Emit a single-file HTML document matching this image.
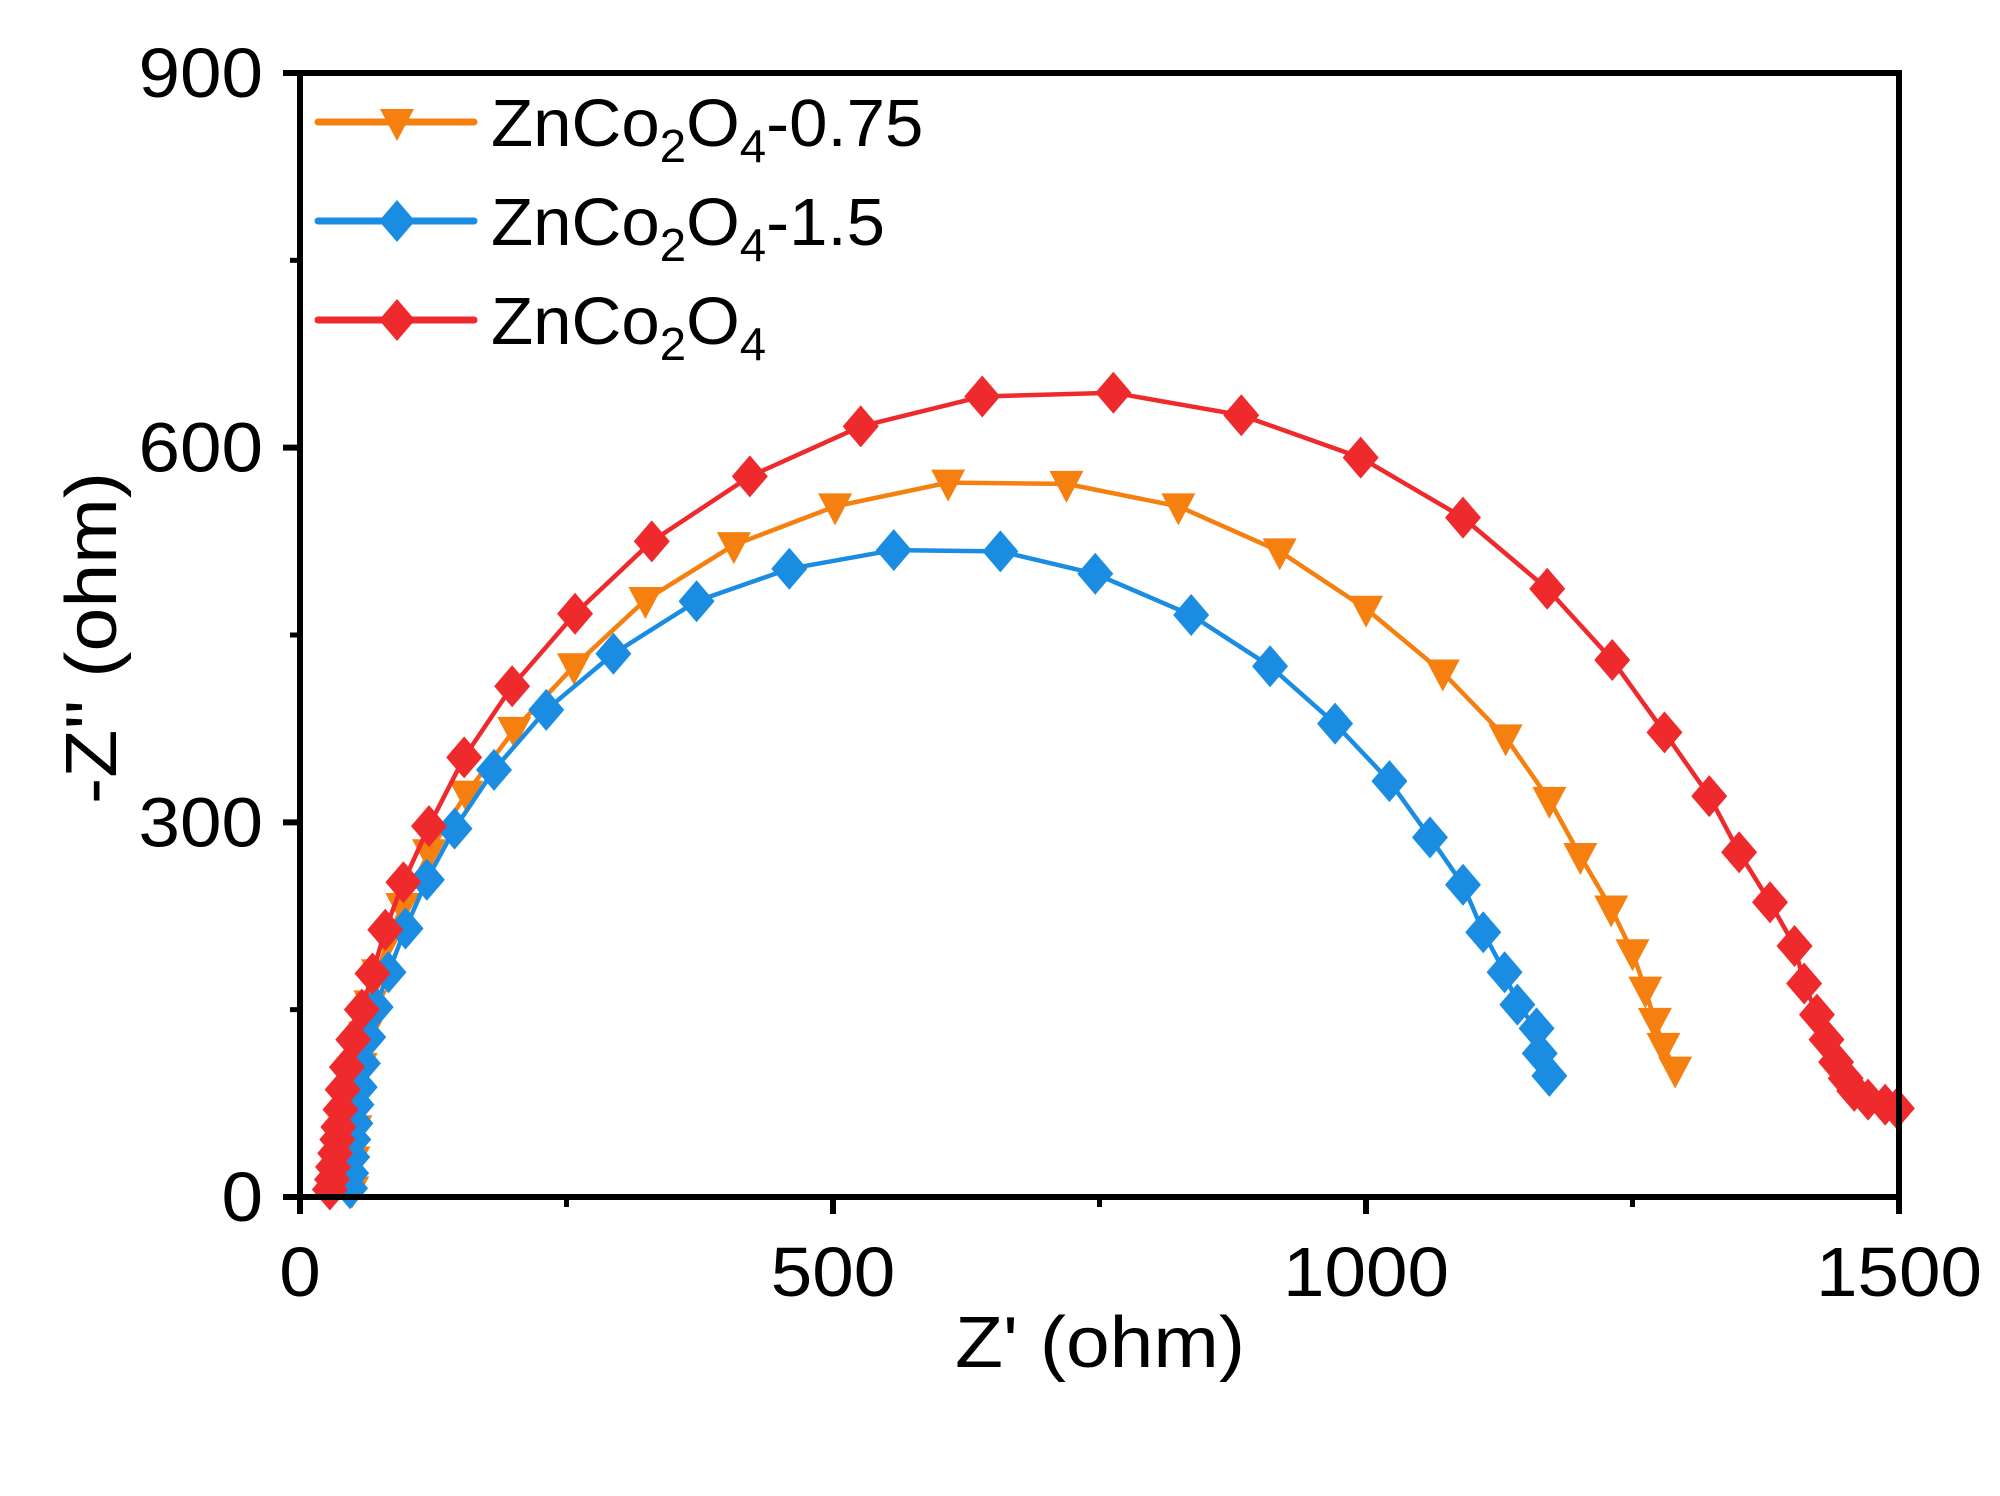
<!DOCTYPE html>
<html><head><meta charset="utf-8"><style>
html,body{margin:0;padding:0;background:#fff}
svg{display:block;font-family:"Liberation Sans",Arial,sans-serif}
</style></head><body>
<svg id="chart" width="2000" height="1496" viewBox="0 0 2000 1496">
<g id="series"></g>
<g id="axes"></g>
<g id="legend"></g>
</svg>
<script>
const xTicks=[0,500,1000,1500];
const yTicks=[0,300,600,900];
const redX=[28,30,31,33,35,36,38,40,44,50,58,68,80,97,121,154,199,258,330,422,526,640,763,883,995,1091,1170,1231,1280,1322,1350,1379,1402,1411,1423,1432,1441,1450,1458,1471,1487,1498];
const redY=[6,14,24,35,46,56,70,86,104,126,150,179,214,252,297,352,409,467,525,577,617,641,644,626,592,544,487,430,372,321,276,236,201,171,146,126,108,95,85,78,74,71];
const orangeX=[49,50,52,54,57,61,66,73,82,96,121,156,201,257,324,407,502,608,719,824,919,1000,1072,1131,1172,1201,1230,1250,1262,1271,1279,1290];
const orangeY=[6,30,55,80,105,130,155,180,205,233,276,323,374,425,478,522,553,572,571,553,517,471,420,368,318,273,231,196,166,141,121,102];
const blueX=[47,48,49,50,52,53,56,59,64,71,83,99,119,145,182,231,294,372,459,557,657,746,836,910,971,1022,1060,1091,1110,1130,1142,1160,1163,1172];
const blueY=[7,19,32,46,59,74,88,107,128,152,180,215,254,295,342,390,435,477,503,518,517,499,466,425,379,333,288,250,212,180,154,135,115,97];

const NS="http://www.w3.org/2000/svg";
const L=300,R=1899,T=73,B=1197;
const sx=v=>L+(v-0)/1500*(R-L);
const sy=v=>B-(v-0)/900*(B-T);
function mk(tag,attrs,parent){const e=document.createElementNS(NS,tag);for(const k in attrs)e.setAttribute(k,attrs[k]);parent.appendChild(e);return e;}
const gS=document.getElementById('series'),gA=document.getElementById('axes'),gL=document.getElementById('legend');
function marker(shape,cx,cy,color,parent){
  if(shape==='tri') return mk('polygon',{points:`${cx-17},${cy-13} ${cx+17},${cy-13} ${cx},${cy+19}`,fill:color},parent);
  return mk('polygon',{points:`${cx},${cy-21} ${cx+18},${cy} ${cx},${cy+21} ${cx-18},${cy}`,fill:color},parent);
}
function series(xs,ys,color,shape,name){
  const g=mk('g',{},gS);
  
  
  const pts=xs.map((x,i)=>sx(x)+','+sy(ys[i])).join(' ');
  const pl=mk('polyline',{points:pts,fill:'none',stroke:color,'stroke-width':4.5,'stroke-linejoin':'round'},g);
  
  
  xs.forEach((x,i)=>{const m=marker(shape,sx(x),sy(ys[i]),color,g);
    
    });
}
series(orangeX,orangeY,'#F5800F','tri','znco2o4-0.75');
series(blueX,blueY,'#1A8DE3','dia','znco2o4-1.5');
series(redX,redY,'#EF2A2D','dia','znco2o4');

const fr=mk('rect',{x:L,y:T,width:R-L,height:B-T,fill:'none',stroke:'#000','stroke-width':6},gA);


xTicks.forEach(v=>{
  mk('line',{x1:sx(v),x2:sx(v),y1:B,y2:B+17,stroke:'#000','stroke-width':6},gA);
  const s=String(v);
  const t=mk('text',{x:sx(v),y:1296,'text-anchor':'middle','font-size':70,fill:'#000',textLength:s.length*41.5,lengthAdjust:'spacingAndGlyphs'},gA);
  t.textContent=s;
  
  
});
[250,750,1250].forEach(v=>mk('line',{x1:sx(v),x2:sx(v),y1:B,y2:B+10,stroke:'#000','stroke-width':5},gA));
yTicks.forEach(v=>{
  mk('line',{x1:L-17,x2:L,y1:sy(v),y2:sy(v),stroke:'#000','stroke-width':6},gA);
  const s=String(v);
  const t=mk('text',{x:263,y:sy(v)+24,'text-anchor':'end','font-size':70,fill:'#000',textLength:s.length*41.5,lengthAdjust:'spacingAndGlyphs'},gA);
  t.textContent=s;
  
  
});
[150,450,750].forEach(v=>mk('line',{x1:L-10,x2:L,y1:sy(v),y2:sy(v),stroke:'#000','stroke-width':5},gA));
const xt=mk('text',{x:1100,y:1367,'text-anchor':'middle','font-size':72,fill:'#000',textLength:290,lengthAdjust:'spacingAndGlyphs'},gA);
xt.textContent="Z' (ohm)";


const yt=mk('text',{x:0,y:0,'text-anchor':'middle','font-size':72,fill:'#000',textLength:332,lengthAdjust:'spacingAndGlyphs',transform:'translate(116,638) rotate(-90)'},gA);
yt.textContent="-Z'' (ohm)";



const leg=[['#F5800F','tri','-0.75','legend-entry-0.75'],['#1A8DE3','dia','-1.5','legend-entry-1.5'],['#EF2A2D','dia','','legend-entry-pristine']];
leg.forEach((e,i)=>{
  const y=122+i*99;
  const g=mk('g',{},gL);
  
  
  mk('line',{x1:318,x2:474,y1:y,y2:y,stroke:e[0],'stroke-width':7,'stroke-linecap':'round'},g);
  marker(e[1],397,y,e[0],g);
  const t=mk('text',{x:0,y:0,'font-size':67,fill:'#000',transform:`translate(491,${y+24}) scale(1.03,1)`},g);
  t.innerHTML='ZnCo<tspan font-size="46" dy="16">2</tspan><tspan dy="-16">O</tspan><tspan font-size="46" dy="16">4</tspan><tspan dy="-16">'+e[2]+'</tspan>';
});
</script>
</body></html>
